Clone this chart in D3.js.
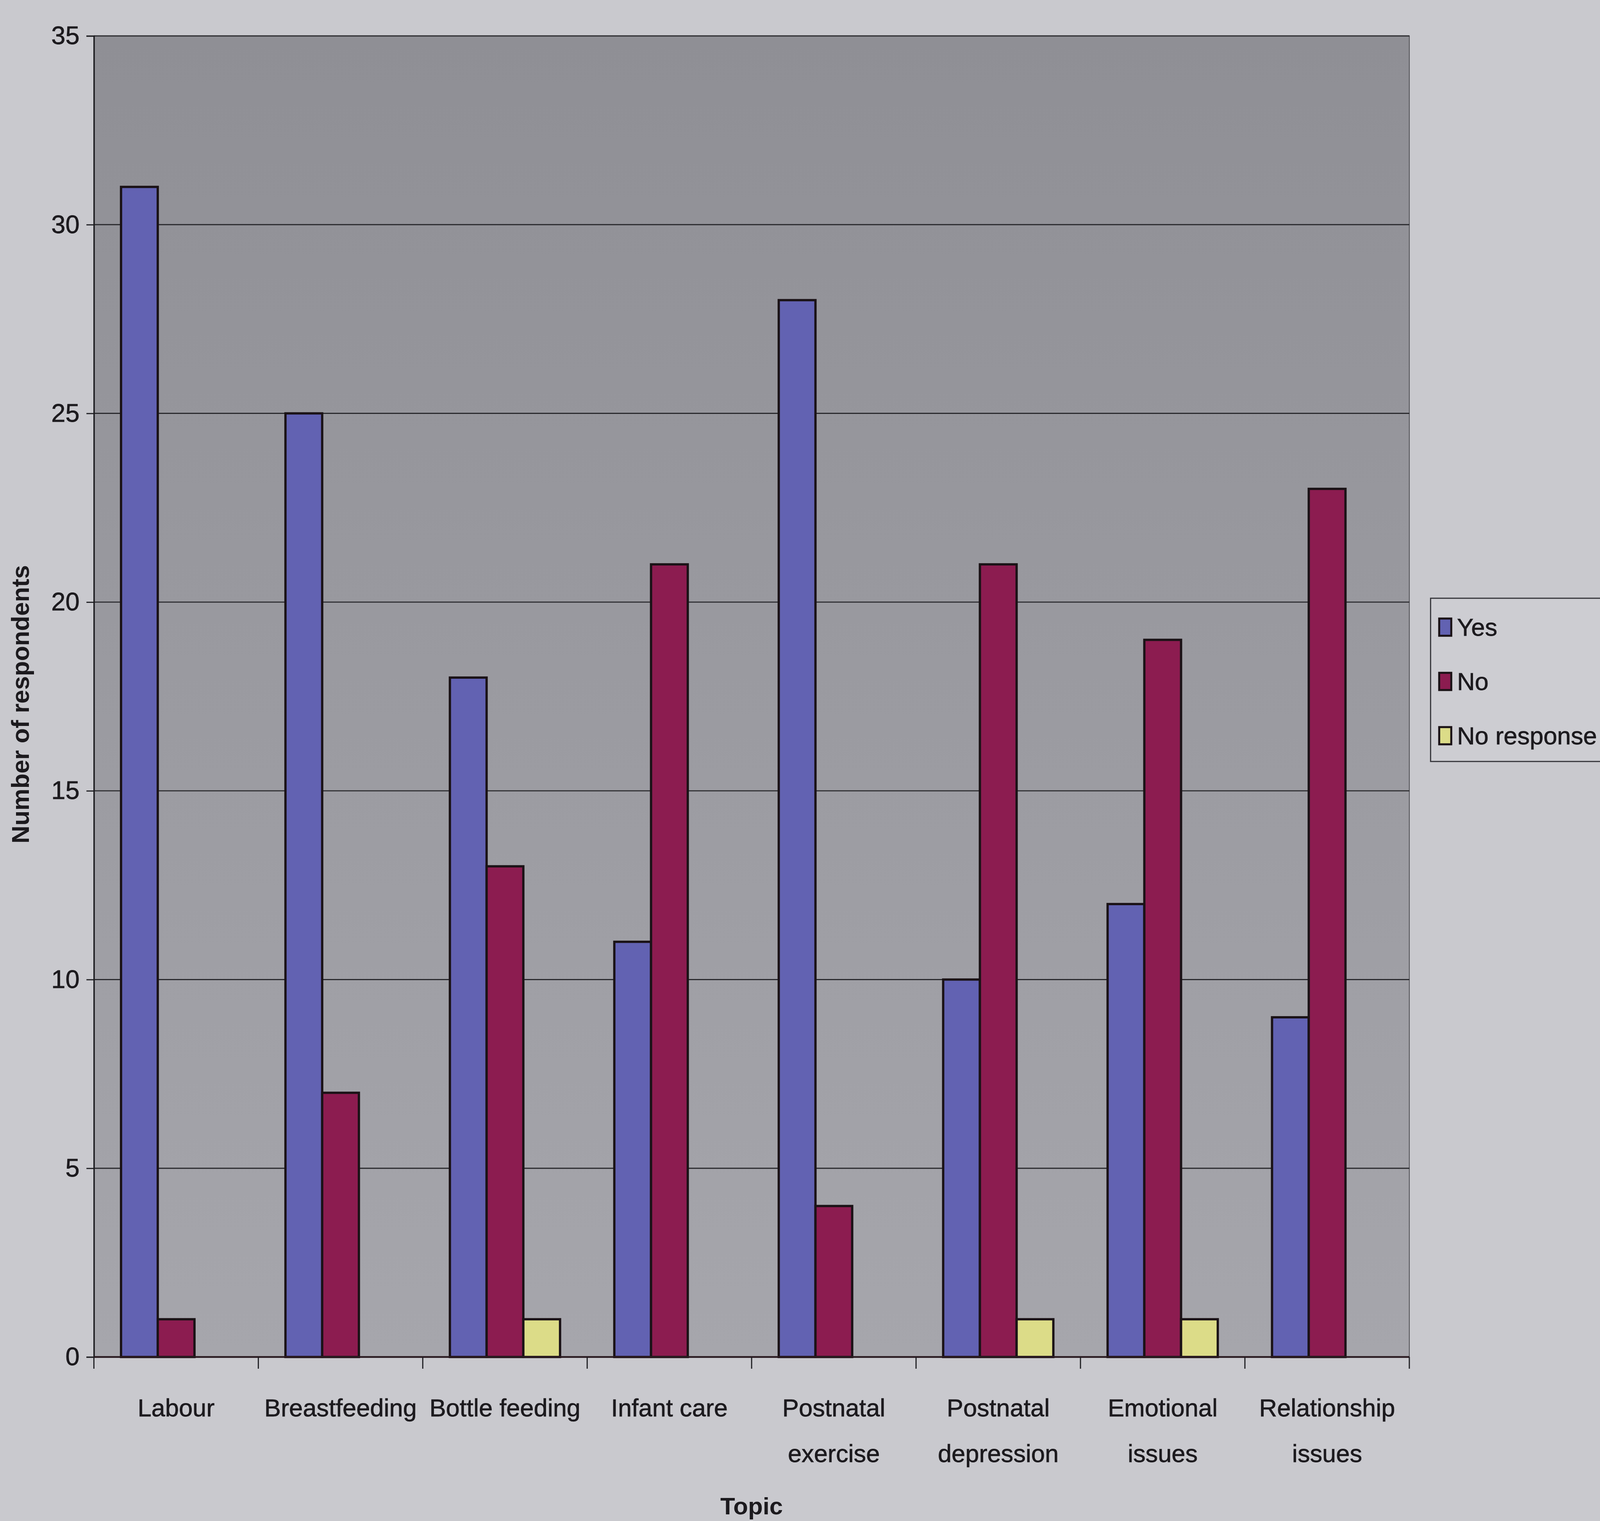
<!DOCTYPE html>
<html>
<head>
<meta charset="utf-8">
<script src="https://cdn.jsdelivr.net/npm/d3@7"></script>
<style>
  html, body { margin: 0; padding: 0; background: #c9c9ce; overflow: hidden; }
  svg { display: block; }
  text { font-family: "Liberation Sans", Arial, sans-serif; fill: #1c1a1e; }
</style>
</head>
<body>
<svg id="chart"></svg>
<script>
// data
var categories = ["Labour", "Breastfeeding", "Bottle feeding", "Infant care",
  "Postnatal exercise", "Postnatal depression", "Emotional issues", "Relationship issues"];
var categoryLabels = [["Labour"], ["Breastfeeding"], ["Bottle feeding"], ["Infant care"],
  ["Postnatal", "exercise"], ["Postnatal", "depression"], ["Emotional", "issues"], ["Relationship", "issues"]];
var seriesNames = ["Yes", "No", "No response"];
var yes = [31, 25, 18, 11, 28, 10, 12, 9];
var no = [1, 7, 13, 21, 4, 21, 19, 23];
var noResponse = [0, 0, 1, 0, 0, 1, 1, 0];
var yTicks = [0, 5, 10, 15, 20, 25, 30, 35];
var colors = ["#6262b2", "#8c1c50", "#dcdc88"];

// lay out relative to the window so the whole chart fills the frame
var W = window.innerWidth || 5572, H = window.innerHeight || 3895;
var sx = W / 5572, sy = H / 3895, s = Math.min(sx, sy);
var svg = d3.select("#chart").attr("width", W).attr("height", H);

var margin = {top: 92 * sy, right: 664 * sx, bottom: 420 * sy, left: 327 * sx};
var width = W - margin.left - margin.right;
var height = H - margin.top - margin.bottom;
var fs = 86 * s;

var seriesData = [yes, no, noResponse];
var rows = categories.map(function(c, i) {
  return seriesNames.map(function(n, j) { return {cat: c, series: n, value: seriesData[j][i], idx: j}; });
});

var x0 = d3.scaleBand().domain(categories).range([0, width]).padding(0);
var x1 = d3.scaleBand().domain(seriesNames)
    .range([x0.bandwidth() * 0.165, x0.bandwidth() * 0.835]).padding(0);
var y = d3.scaleLinear().domain([0, 35]).range([height, 0]);

var defs = svg.append("defs");
var grad = defs.append("linearGradient").attr("id", "plotbg")
    .attr("x1", 0).attr("y1", 0).attr("x2", 0).attr("y2", 1);
grad.append("stop").attr("offset", "0%").attr("stop-color", "#8f8f95");
grad.append("stop").attr("offset", "100%").attr("stop-color", "#a6a6ac");

svg.append("rect").attr("width", W).attr("height", H).attr("fill", "#c9c9ce");

var g = svg.append("g")
    .attr("transform", "translate(" + margin.left + "," + margin.top + ")");

g.append("rect")
    .attr("width", width).attr("height", height)
    .attr("fill", "url(#plotbg)")
    .attr("stroke", "#55555a").attr("stroke-width", 3 * s);

// gridlines
g.append("g").selectAll("line")
  .data(yTicks.filter(function(d) { return d > 0; }))
  .enter().append("line")
    .attr("x1", 0).attr("x2", width)
    .attr("y1", function(d) { return y(d); })
    .attr("y2", function(d) { return y(d); })
    .attr("stroke", "#2a2a2e").attr("stroke-width", 4 * s);

// bars
var groups = g.selectAll(".grp")
  .data(rows)
  .enter().append("g")
    .attr("class", "grp")
    .attr("transform", function(d, i) { return "translate(" + x0(categories[i]) + ",0)"; });

groups.selectAll("rect")
  .data(function(d) { return d.filter(function(e) { return e.value > 0; }); })
  .enter().append("rect")
    .attr("x", function(d) { return x1(d.series); })
    .attr("y", function(d) { return y(d.value); })
    .attr("width", x1.bandwidth())
    .attr("height", function(d) { return height - y(d.value); })
    .attr("fill", function(d) { return colors[d.idx]; })
    .attr("stroke", "#1a1216").attr("stroke-width", 8 * s);

// y axis
var yAxis = g.append("g")
    .call(d3.axisLeft(y).tickValues(yTicks).tickSize(26 * sx).tickPadding(24 * sx));
yAxis.select(".domain").attr("stroke", "#1e1e22").attr("stroke-width", 5 * s);
yAxis.selectAll(".tick line").attr("stroke", "#1e1e22").attr("stroke-width", 4 * s);
yAxis.selectAll(".tick text")
    .style("font-size", (fs * 1.03) + "px")
    .style("font-family", "Liberation Sans, Arial, sans-serif")
    .attr("fill", "#1c1a1e").attr("stroke", "#1c1a1e").attr("stroke-width", 1.2 * s);

// x axis: ticks at category boundaries
var xAxis = g.append("g")
    .attr("transform", "translate(0," + height + ")");
xAxis.append("line")
    .attr("x1", 0).attr("x2", width)
    .attr("stroke", "#2a1a20").attr("stroke-width", 6 * s);
xAxis.selectAll(".xtick")
  .data(categories.concat(["end"]))
  .enter().append("line")
    .attr("class", "xtick")
    .attr("x1", function(d, i) { return i < categories.length ? x0(d) : width; })
    .attr("x2", function(d, i) { return i < categories.length ? x0(d) : width; })
    .attr("y1", 0).attr("y2", 30 * sy)
    .attr("stroke", "#1e1e22").attr("stroke-width", 4 * s);

var labels = xAxis.selectAll(".xlabel")
  .data(categories)
  .enter().append("text")
    .attr("class", "xlabel")
    .attr("text-anchor", "middle")
    .attr("transform", function(d) { return "translate(" + (x0(d) + x0.bandwidth() / 2) + ",0)"; })
    .attr("stroke", "#1c1a1e").attr("stroke-width", 1.2 * s)
    .style("font-size", fs + "px");
labels.each(function(d, i) {
  var t = d3.select(this);
  categoryLabels[i].forEach(function(line, k) {
    t.append("tspan").attr("x", 0).attr("y", (152 + k * 117) * sy).text(line);
  });
});

// axis titles
svg.append("text")
    .attr("x", margin.left + width / 2)
    .attr("y", 3878 * sy)
    .attr("text-anchor", "middle")
    .style("font-size", (84 * s) + "px").style("font-weight", "bold")
    .text("Topic");

svg.append("text")
    .attr("transform", "translate(" + (100 * sx) + "," + (margin.top + height / 2 + 20 * sy) + ") rotate(-90)")
    .attr("text-anchor", "middle")
    .style("font-size", fs + "px").style("font-weight", "bold")
    .text("Number of respondents");

// legend
var legend = svg.append("g").attr("transform", "translate(" + (4982 * sx) + "," + (1532 * sy) + ")");
legend.append("rect")
    .attr("width", 700 * sx).attr("height", 418 * sy)
    .attr("fill", "#cdcdd2")
    .attr("stroke", "#333338").attr("stroke-width", 4 * s);
var items = legend.selectAll(".item")
  .data(seriesNames)
  .enter().append("g")
    .attr("transform", function(d, i) { return "translate(" + (30 * sx) + "," + ((74 + i * 139) * sy) + ")"; });
items.append("rect")
    .attr("x", 0).attr("y", -30 * s).attr("width", 42 * s).attr("height", 60 * s)
    .attr("fill", function(d, i) { return colors[i]; })
    .attr("stroke", "#1a1216").attr("stroke-width", 7 * s);
items.append("text")
    .attr("x", 62 * s).attr("y", 30 * s)
    .attr("stroke", "#1c1a1e").attr("stroke-width", 1.2 * s)
    .style("font-size", fs + "px")
    .text(function(d) { return d; });
</script>
</body>
</html>
